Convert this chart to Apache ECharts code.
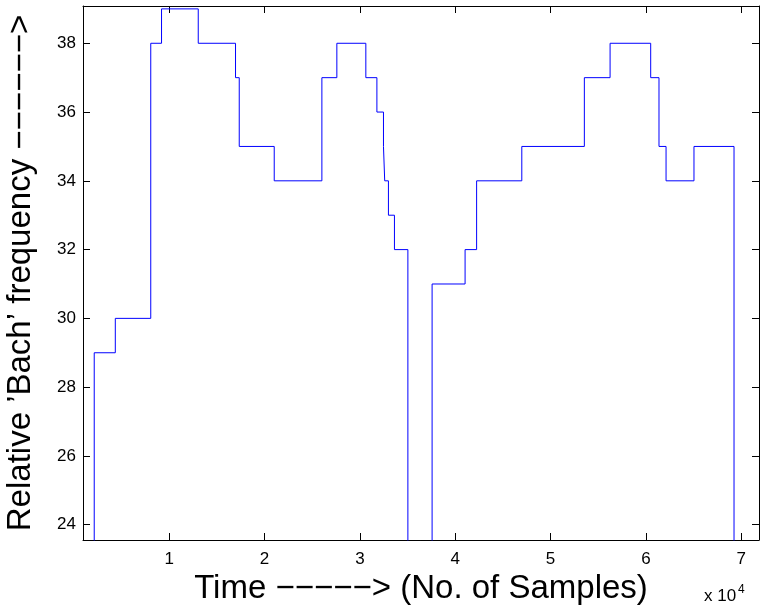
<!DOCTYPE html>
<html>
<head>
<meta charset="utf-8">
<script src="https://cdn.jsdelivr.net/npm/echarts@6/dist/echarts.min.js"></script>
<style>html,body{margin:0;padding:0;background:#fff;}#c{width:762px;height:613px;}</style>
</head>
<body>
<div id="c"></div>
<script>
// Sample index at which each frequency level starts
var stepStart = [952, 2130, 4340, 8060, 9190, 13040, 16950, 17340, 21010, 26010, 27580, 30620, 31780, 32470, 32600, 32990, 33620, 35030, 37570, 41030, 42240, 46980, 53540, 56240, 60500, 61370, 62110, 65040, 69240];
// Relative 'Bach' frequency level held from that sample onward (0 = off-scale low)
var stepLevel = [0, 29, 30, 38, 39, 38, 37, 35, 34, 37, 38, 37, 36, 35, 34, 33, 32, 0, 31, 32, 34, 35, 37, 38, 37, 35, 34, 35, 0];
var lastSample = 71860;
var xTicks = [10000, 20000, 30000, 40000, 50000, 60000, 70000];
var yTicks = [24, 26, 28, 30, 32, 34, 36, 38];
var xMin = 952, xMax = 71860, yMin = 23.555, yMax = 39.084;

var data = stepStart.map(function (s, i) { return [s, stepLevel[i]]; });
data.push([lastSample, stepLevel[stepLevel.length - 1]]);

var FONT = 'Liberation Sans, Arial, Helvetica, sans-serif';
var M = '\u2212';
var xName = 'Time ' + M + M + M + M + M + '> (No. of Samples)';
var yName = 'Relative \u2019Bach\u2019 frequency ' + M + M + M + M + M + M + '>';

function axisCommon(vals, showLabels) {
  return {
    axisLine: { show: true, onZero: false, lineStyle: { color: '#000', width: 1 } },
    axisTick: { show: true, inside: true, length: 7, customValues: vals, lineStyle: { color: '#000', width: 1 } },
    axisLabel: { show: showLabels, customValues: vals, color: '#000', fontSize: 17, fontFamily: FONT },
    splitLine: { show: false }
  };
}

var xb = axisCommon(xTicks, true);
xb.type = 'value'; xb.min = xMin; xb.max = xMax; xb.position = 'bottom';
xb.axisLabel.margin = 11;
xb.axisLabel.formatter = function (v) { return String(Math.round(v / 10000)); };
xb.name = xName; xb.nameLocation = 'middle'; xb.nameGap = 31;
xb.nameTextStyle = { fontSize: 33, color: '#000', fontFamily: FONT };

var xt = axisCommon(xTicks, false);
xt.type = 'value'; xt.min = xMin; xt.max = xMax; xt.position = 'top';

var yl = axisCommon(yTicks, true);
yl.type = 'value'; yl.min = yMin; yl.max = yMax; yl.position = 'left';
yl.axisLabel.margin = 7;
yl.name = yName; yl.nameLocation = 'middle'; yl.nameGap = 46;
yl.nameTextStyle = { fontSize: 33, color: '#000', fontFamily: FONT };

var yr = axisCommon(yTicks, false);
yr.type = 'value'; yr.min = yMin; yr.max = yMax; yr.position = 'right';

var chart = echarts.init(document.getElementById('c'), null, { renderer: 'canvas' });
chart.setOption({
  backgroundColor: '#fff',
  animation: false,
  grid: { left: 83, right: 3, top: 6, bottom: 73, containLabel: false, outerBoundsMode: 'none' },
  xAxis: [xb, xt],
  yAxis: [yl, yr],
  graphic: [
    { type: 'text', left: 704, top: 588, style: { text: 'x 10', fontSize: 17, fill: '#000', fontFamily: FONT } },
    { type: 'text', left: 738, top: 584, style: { text: '4', fontSize: 12, fill: '#000', fontFamily: FONT } }
  ],
  series: [{
    type: 'line',
    step: 'end',
    xAxisIndex: 0,
    yAxisIndex: 0,
    data: data,
    showSymbol: false,
    symbol: 'none',
    clip: true,
    lineStyle: { color: '#0000ff', width: 1 }
  }]
});
</script>
</body>
</html>
